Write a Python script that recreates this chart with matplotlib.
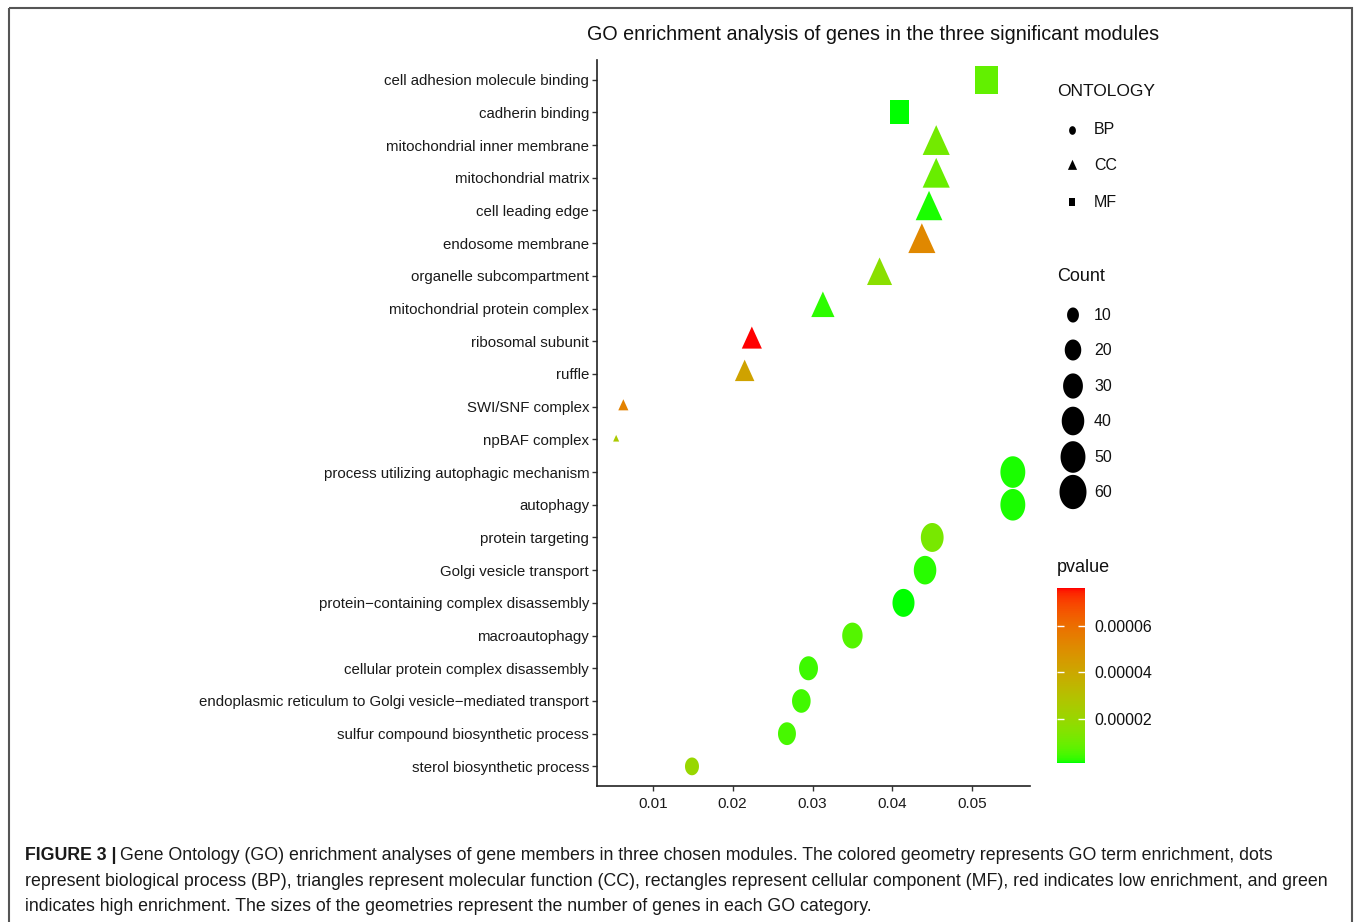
import numpy as np
import matplotlib
matplotlib.use('Agg')
import matplotlib.pyplot as plt
from matplotlib.path import Path
from matplotlib.colors import ListedColormap, Normalize
from matplotlib.cm import ScalarMappable
from matplotlib.patches import Rectangle

plt.rcParams['font.family'] = ['Liberation Sans', 'DejaVu Sans']

# GO terms, top to bottom
terms = [
    'cell adhesion molecule binding', 'cadherin binding',
    'mitochondrial inner membrane', 'mitochondrial matrix', 'cell leading edge',
    'endosome membrane', 'organelle subcompartment', 'mitochondrial protein complex',
    'ribosomal subunit', 'ruffle', 'SWI/SNF complex', 'npBAF complex',
    'process utilizing autophagic mechanism', 'autophagy', 'protein targeting',
    'Golgi vesicle transport', 'protein\u2212containing complex disassembly',
    'macroautophagy', 'cellular protein complex disassembly',
    'endoplasmic reticulum to Golgi vesicle\u2212mediated transport',
    'sulfur compound biosynthetic process', 'sterol biosynthetic process',
]
ontology = ['MF'] * 2 + ['CC'] * 10 + ['BP'] * 10
gene_ratio = [0.0518, 0.0409,
              0.0455, 0.0455, 0.0446, 0.0437, 0.0384, 0.0313, 0.0224, 0.0215, 0.0063, 0.0054,
              0.0551, 0.0551, 0.0450, 0.0441, 0.0414, 0.0350, 0.0295, 0.0286, 0.0268, 0.0149]
counts = [50, 36,
          31, 31, 30, 31, 26, 22, 16, 15, 5, 4,
          50, 50, 41, 40, 38, 32, 27, 26, 24, 14]
pvalues = [8.0e-6, 1.0e-6,
           1.1e-5, 9.0e-6, 1.5e-6, 5.2e-5, 1.6e-5, 2.5e-6, 7.66e-5, 4.2e-5, 5.4e-5, 2.6e-5,
           1.6e-6, 1.4e-6, 1.2e-5, 2.0e-6, 8.0e-7, 6.0e-6, 3.5e-6, 4.0e-6, 4.5e-6, 2.0e-5]

count_breaks = [10, 20, 30, 40, 50, 60]
p_breaks = [2e-5, 4e-5, 6e-5]
x_breaks = [0.01, 0.02, 0.03, 0.04, 0.05]

W, H, DPI = 1355, 922, 100
PX_PER_PT = DPI / 72.0
SIZE_LIM = (4, 60)      # count range mapped to marker size
SIZE_UNIT = 4.5         # px, smallest marker diameter
STRETCH = 1.27          # markers are taller than wide


# green -> red gradient interpolated in CIE Lab
M_RGB2XYZ = np.array([[0.4124564, 0.3575761, 0.1804375],
                      [0.2126729, 0.7151522, 0.0721750],
                      [0.0193339, 0.1191920, 0.9503041]])
M_XYZ2RGB = np.linalg.inv(M_RGB2XYZ)
WHITE = np.array([0.95047, 1.0, 1.08883])


def rgb_to_lab(rgb):
    rgb = np.asarray(rgb, float)
    lin = np.where(rgb <= 0.04045, rgb / 12.92, ((rgb + 0.055) / 1.055) ** 2.4)
    t = (M_RGB2XYZ @ lin) / WHITE
    f = np.where(t > (6 / 29) ** 3, np.cbrt(t), t / (3 * (6 / 29) ** 2) + 4 / 29)
    return np.array([116 * f[1] - 16, 500 * (f[0] - f[1]), 200 * (f[1] - f[2])])


def lab_to_rgb(lab):
    L, a, b = lab
    fy = (L + 16) / 116
    f = np.array([fy + a / 500, fy, fy - b / 200])
    t = np.where(f > 6 / 29, f ** 3, 3 * (6 / 29) ** 2 * (f - 4 / 29))
    lin = np.clip(M_XYZ2RGB @ (t * WHITE), 0, 1)
    rgb = np.where(lin <= 0.0031308, 12.92 * lin, 1.055 * lin ** (1 / 2.4) - 0.055)
    return np.clip(rgb, 0, 1)


lab_lo = rgb_to_lab([0, 1, 0])
lab_hi = rgb_to_lab([1, 0, 0])
cmap = ListedColormap([lab_to_rgb(lab_lo + (lab_hi - lab_lo) * t) for t in np.linspace(0, 1, 256)])
norm = Normalize(vmin=min(pvalues), vmax=max(pvalues))


# marker shapes (unit = radius of the circle)
theta = np.linspace(0, 2 * np.pi, 72)
shapes = {
    'BP': Path(np.column_stack([np.cos(theta), STRETCH * np.sin(theta)]), closed=True),
    'CC': Path([(0, 1.5551 * STRETCH), (1.3468, -0.7776 * STRETCH),
                (-1.3468, -0.7776 * STRETCH), (0, 1.5551 * STRETCH)], closed=True),
    'MF': Path([(-0.8862, -0.8862 * STRETCH), (0.8862, -0.8862 * STRETCH),
                (0.8862, 0.8862 * STRETCH), (-0.8862, 0.8862 * STRETCH),
                (-0.8862, -0.8862 * STRETCH)], closed=True),
}


def diameter(c):
    c = np.asarray(c, float)
    r = np.clip((c - SIZE_LIM[0]) / (SIZE_LIM[1] - SIZE_LIM[0]), 0, 1)
    return SIZE_UNIT * (1 + 5 * np.sqrt(r))


def marker_area(path, d_px):
    m = np.max(np.abs(path.vertices))
    return (m * np.asarray(d_px) / PX_PER_PT) ** 2


fig = plt.figure(figsize=(W / DPI, H / DPI), dpi=DPI)
ax = fig.add_axes([597 / W, 1 - 786 / H, (1030 - 597) / W, (786 - 60) / H])

ypos = np.arange(len(terms))
ont = np.array(ontology)
xr = np.array(gene_ratio)
cn = np.array(counts)
pv = np.array(pvalues)
for key in ['BP', 'CC', 'MF']:
    m = ont == key
    ax.scatter(xr[m], ypos[m], s=marker_area(shapes[key], diameter(cn[m])),
               c=pv[m], cmap=cmap, norm=norm, marker=shapes[key], linewidths=0)

ax.set_xlim(0.0030, 0.05725)
ax.set_ylim(len(terms) - 0.4, -0.6)
ax.set_yticks(ypos)
ax.set_yticklabels(terms)
ax.set_xticks(x_breaks)
ax.set_xticklabels([f'{v:.2f}' for v in x_breaks])
for side in ['top', 'right']:
    ax.spines[side].set_visible(False)
for side in ['left', 'bottom']:
    ax.spines[side].set_linewidth(1.2)
    ax.spines[side].set_color('#222222')
ax.tick_params(length=3.6, width=1, color='#333333', labelsize=10.8,
               labelcolor='#1a1a1a', pad=2)
ax.tick_params(axis='x', labelsize=11, pad=4)

fig.text(873 / W, 1 - 35 / H, 'GO enrichment analysis of genes in the three significant modules',
         ha='center', va='center', fontsize=14.2, color='#111111')

# legends, drawn on a pixel-space overlay
lax = fig.add_axes([0, 0, 1, 1])
lax.set_xlim(0, W)
lax.set_ylim(H, 0)
lax.axis('off')

lax.text(1057, 92, 'ONTOLOGY', ha='left', va='center', fontsize=12.5, color='#111111')
for key, yy in zip(['BP', 'CC', 'MF'], [130, 166, 202]):
    lax.scatter([1072], [yy], s=marker_area(shapes[key], 6.8), c='black',
                marker=shapes[key], linewidths=0)
    lax.text(1094, yy, key, ha='left', va='center', fontsize=11.5, color='#111111')

lax.text(1057, 276, 'Count', ha='left', va='center', fontsize=13, color='#111111')
count_y = [315, 350, 386, 421, 457, 492]
lax.scatter([1073] * len(count_breaks), count_y,
            s=marker_area(shapes['BP'], diameter(count_breaks)), c='black',
            marker=shapes['BP'], linewidths=0)
for v, yy in zip(count_breaks, count_y):
    lax.text(1094, yy, str(v), ha='left', va='center', fontsize=11.5, color='#111111')

lax.text(1057, 567, 'pvalue', ha='left', va='center', fontsize=13, color='#111111')
cax = fig.add_axes([1057 / W, 1 - 763 / H, 28 / W, 175 / H])
cb = fig.colorbar(ScalarMappable(norm=norm, cmap=cmap), cax=cax)
cb.set_ticks(p_breaks)
cb.set_ticklabels([f'{v:.5f}' for v in p_breaks])
cb.outline.set_visible(False)
cax.tick_params(length=5, width=1, color='white', direction='in', left=True, right=True,
                labelsize=11.5, labelcolor='#111111', pad=6.5)

# page frame
lax.add_patch(Rectangle((9, 8), 1343, 940, fill=False, edgecolor='#555555',
                        linewidth=1.5, clip_on=False))

# caption
cap_size = 12.75
bold = fig.text(25 / W, 1 - 855 / H, 'FIGURE 3 |', ha='left', va='center',
                fontsize=cap_size, fontweight='bold', color='#1a1a1a')
fig.canvas.draw()
ext = bold.get_window_extent(fig.canvas.get_renderer())
fig.text((ext.x1 + 3) / W, 1 - 855 / H,
         'Gene Ontology (GO) enrichment analyses of gene members in three chosen modules. '
         'The colored geometry represents GO term enrichment, dots',
         ha='left', va='center', fontsize=cap_size, color='#1a1a1a')
fig.text(25 / W, 1 - 881 / H,
         'represent biological process (BP), triangles represent molecular function (CC), '
         'rectangles represent cellular component (MF), red indicates low enrichment, and green',
         ha='left', va='center', fontsize=cap_size, color='#1a1a1a')
fig.text(25 / W, 1 - 906 / H,
         'indicates high enrichment. The sizes of the geometries represent the number of genes '
         'in each GO category.',
         ha='left', va='center', fontsize=cap_size, color='#1a1a1a')

fig.savefig('out.png', dpi=DPI)
